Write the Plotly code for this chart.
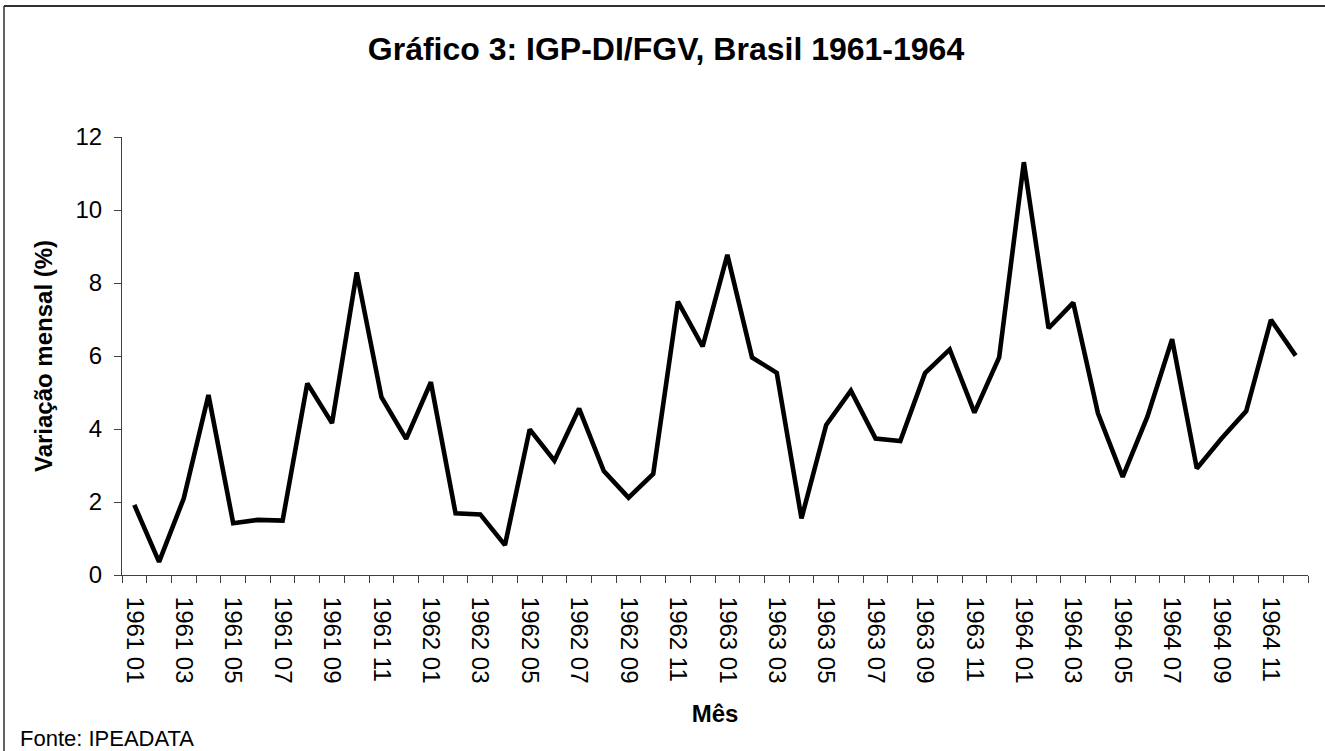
import plotly.graph_objects as go

# ---- data ----
anos = [1961, 1962, 1963, 1964]
meses = [f"{a} {m:02d}" for a in anos for m in range(1, 13)]
valores = [
    1.92, 0.36, 2.10, 4.93, 1.42, 1.51, 1.49, 5.25, 4.16, 8.29, 4.87, 3.73,
    5.28, 1.69, 1.66, 0.82, 3.99, 3.13, 4.56, 2.85, 2.12, 2.77, 7.49, 6.26,
    8.77, 5.96, 5.54, 1.55, 4.11, 5.05, 3.74, 3.67, 5.53, 6.18, 4.45, 5.96,
    11.31, 6.76, 7.46, 4.43, 2.69, 4.34, 6.46, 2.92, 3.74, 4.49, 6.99, 6.01,
]
rotulos = [m if i % 2 == 0 else "" for i, m in enumerate(meses)]
y_ticks = [0, 2, 4, 6, 8, 10, 12]

titulo = "Gráfico 3: IGP-DI/FGV, Brasil 1961-1964"
titulo_y = "Variação mensal (%)"
titulo_x = "Mês"
fonte = "Fonte: IPEADATA"

FONT = "Liberation Sans, Arial, sans-serif"
W, H = 1325, 751
L, R, T, B = 122, 17, 137, 176
PW, PH = W - L - R, H - T - B

fig = go.Figure()
fig.add_trace(go.Scatter(
    x=meses, y=valores, mode="lines",
    line=dict(color="black", width=4.6),
    showlegend=False, hoverinfo="x+y",
))

fig.update_layout(
    width=W, height=H,
    margin=dict(l=L, r=R, t=T, b=B),
    paper_bgcolor="white", plot_bgcolor="white",
    font=dict(family=FONT, color="black"),
    title=dict(
        text=f"<b>{titulo}</b>", x=666 / W, xref="container", xanchor="center",
        y=1 - 49 / H, yref="container", yanchor="middle",
        font=dict(size=32, family=FONT, color="black"),
    ),
    xaxis=dict(
        type="category", categoryorder="array", categoryarray=meses,
        range=[-0.5, len(meses) - 0.5],
        tickmode="array", tickvals=meses, ticktext=rotulos,
        tickangle=90, tickson="boundaries",
        ticks="outside", ticklen=7, tickwidth=1, tickcolor="#404040",
        showline=True, linecolor="#404040", linewidth=1,
        showgrid=False, zeroline=False,
        tickfont=dict(size=24, family=FONT, color="black"),
        ticklabelstandoff=16,
        title=dict(text=f"<b>{titulo_x}</b>", standoff=22,
                   font=dict(size=24, family=FONT, color="black")),
    ),
    yaxis=dict(
        range=[0, 12], tickmode="array", tickvals=y_ticks,
        ticks="outside", ticklen=7, tickwidth=1, tickcolor="#404040",
        showline=True, linecolor="#404040", linewidth=1,
        showgrid=False, zeroline=False,
        tickfont=dict(size=24, family=FONT, color="black"),
        ticklabelstandoff=7,
        title=dict(text=f"<b>{titulo_y}</b>", standoff=16,
                   font=dict(size=24, family=FONT, color="black")),
    ),
)

# outer frame: only its top and left edges fall inside the picture
fx = (4 - L) / PW
fy = (H - B - 6) / PH
fig.add_shape(type="line", xref="paper", yref="paper",
              x0=fx, x1=1 + (R + 5) / PW, y0=fy, y1=fy,
              line=dict(color="#303030", width=2))
fig.add_shape(type="line", xref="paper", yref="paper",
              x0=fx, x1=fx, y0=fy, y1=-(B + 5) / PH,
              line=dict(color="#303030", width=1.5))

fig.add_annotation(
    text=fonte, xref="paper", yref="paper",
    x=(18 - L) / PW, y=(H - B - 738) / PH,
    xanchor="left", yanchor="middle", showarrow=False,
    font=dict(size=22, family=FONT, color="black"),
)

fig.write_html("out.html", config={"displayModeBar": False},
               post_script="document.body.style.margin='0';")
